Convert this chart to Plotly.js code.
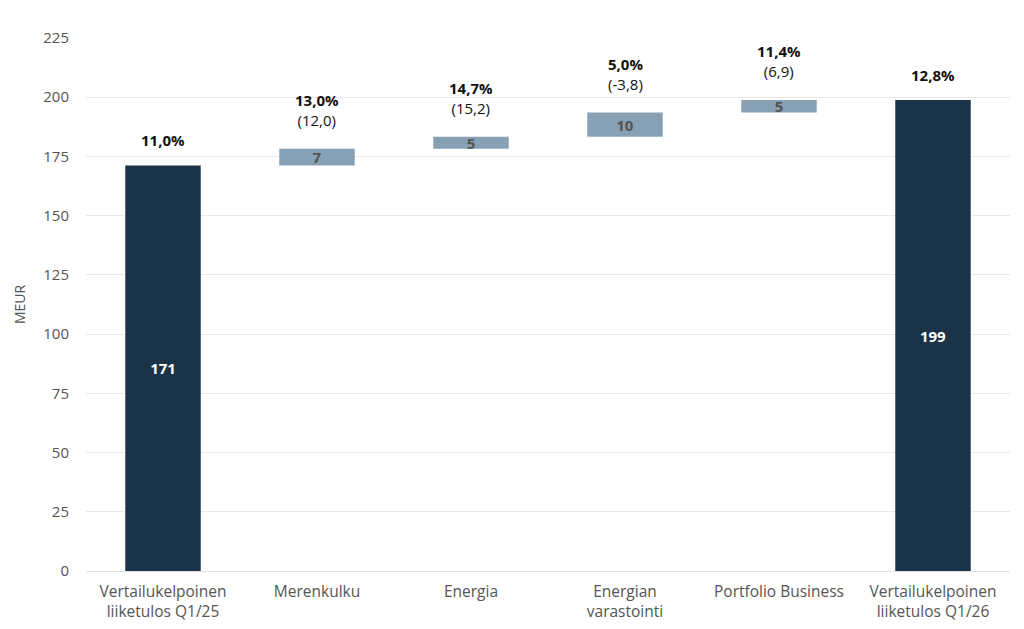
<!DOCTYPE html>
<html>
<head>
<meta charset="utf-8">
<script src="https://cdn.plot.ly/plotly-3.0.1.min.js"></script>
<style>html,body{margin:0;padding:0;background:#fff;}#chart{width:1024px;height:629px;}</style>
</head>
<body>
<div id="chart"></div>
<script>
const categories = ['Vertailukelpoinen<br>liiketulos Q1/25','Merenkulku','Energia','Energian<br>varastointi','Portfolio Business','Vertailukelpoinen<br>liiketulos Q1/26'];
const values = [171.2, 7.0, 5.1, 10.2, 5.3, 198.8];
const kinds = ['total','delta','delta','delta','delta','total'];
const barLabels = ['171','7','5','10','5','199'];
const marginPct = ['11,0%','13,0%','14,7%','5,0%','11,4%','12,8%'];
const priorPct = [null,'(12,0)','(15,2)','(-3,8)','(6,9)',null];
const yTicks = [0,25,50,75,100,125,150,175,200,225];

const NAVY = '#1b3349', STEEL = '#87a0b3';
let run = 0;
const bases = [], tops = [];
values.forEach((v,i)=>{
  if (kinds[i]==='total'){ bases.push(0); tops.push(v); run = v; }
  else { bases.push(run); run += v; tops.push(run); }
});

const trace = {
  type:'bar', x:categories, y:values, base:bases,
  width:0.49,
  marker:{color:kinds.map(k=>k==='total'?NAVY:STEEL), line:{width:0}},
  text:barLabels.map(t=>'<b>'+t+'</b>'),
  textposition:'inside', insidetextanchor:'middle', constraintext:'none', textangle:0,
  textfont:{family:'Open Sans', size:15, color:kinds.map(k=>k==='total'?'#ffffff':'#555555')},
  hoverinfo:'none', cliponaxis:false
};

const annotations = categories.map((c,i)=>({
  x:c, y:tops[i], xref:'x', yref:'y', yanchor:'bottom', showarrow:false,
  yshift: kinds[i]==='total'?13:17,
  text: '<b>'+marginPct[i]+'</b>' + (priorPct[i]?'<br>'+priorPct[i]:''),
  font:{family:'Open Sans', size:15, color:'#111111'}, align:'center'
}));

const layout = {
  width:1024, height:629,
  margin:{l:86, r:14, t:38, b:58},
  paper_bgcolor:'#ffffff', plot_bgcolor:'#ffffff',
  showlegend:false, bargap:0.5,
  font:{family:'Open Sans', size:15, color:'#555555'},
  xaxis:{type:'category', range:[-0.5,5.5], showgrid:false, showline:true, linecolor:'#e3e3e3', linewidth:1, ticks:'', ticklabelstandoff:6, tickfont:{family:'Open Sans', size:15.5, color:'#555555'}, fixedrange:true},
  yaxis:{range:[0,225], tickvals:yTicks, ticktext:yTicks.map(String), showgrid:true, gridcolor:'#e8e8e8', zeroline:false, showline:false, ticks:'', ticklabelstandoff:16, tickfont:{family:'Open Sans', size:15, color:'#555555'},
    title:{text:'MEUR', font:{family:'Open Sans', size:14, color:'#555555'}, standoff:14}, fixedrange:true},
  annotations:annotations
};
Plotly.newPlot('chart',[trace],layout,{displayModeBar:false, staticPlot:true});
</script>
</body>
</html>
